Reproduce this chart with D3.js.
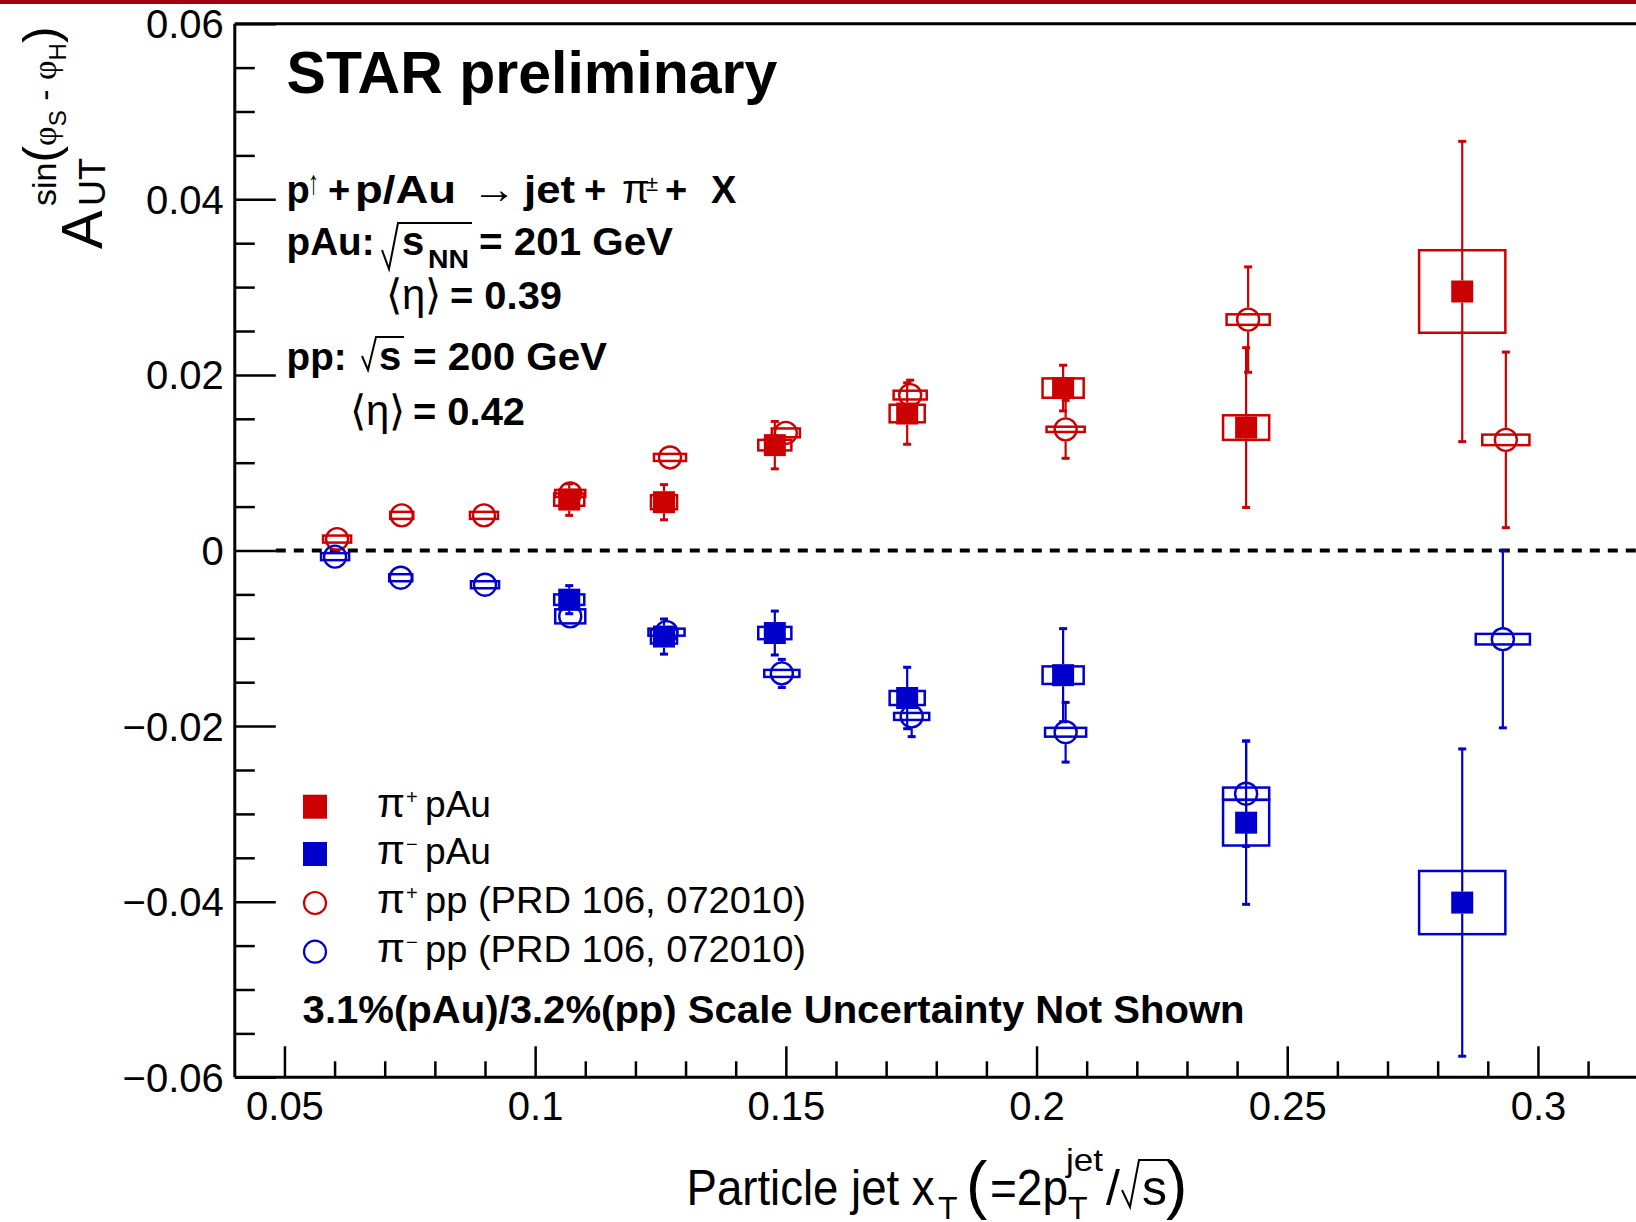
<!DOCTYPE html>
<html>
<head>
<meta charset="utf-8">
<script src="https://cdn.jsdelivr.net/npm/d3@7"></script>
<style>
body{margin:0;background:#fff;}
svg{display:block;}
text{font-family:"Liberation Sans",Arial,Helvetica,sans-serif;fill:#000;}
</style>
</head>
<body>
<div id="chart"></div>
<script>
// data
var pAuX      = [0.1068, 0.1257, 0.1478, 0.1742, 0.2053, 0.2418, 0.2849];
var pAuXErr   = [0.0030, 0.0026, 0.0033, 0.0035, 0.0041, 0.0046, 0.0086];

var piPlusPAu      = [0.0058, 0.0055, 0.0120, 0.0156, 0.0185, 0.0140, 0.0295];
var piPlusPAuStat  = [0.0018, 0.0020, 0.0027, 0.0035, 0.0026, 0.0091, 0.0171];
var piPlusPAuSys   = [0.0007, 0.0008, 0.0006, 0.0010, 0.0011, 0.0014, 0.0047];

var piMinusPAu     = [-0.0056, -0.0098, -0.0094, -0.0168, -0.0142, -0.0310, -0.0401];
var piMinusPAuStat = [0.0016, 0.0020, 0.0025, 0.0035, 0.0053, 0.0093, 0.0175];
var piMinusPAuSys  = [0.0006, 0.0008, 0.0007, 0.0008, 0.0010, 0.0026, 0.0036];

var ppPlusX      = [0.0605, 0.0734, 0.0898, 0.1070, 0.1269, 0.1500, 0.1748, 0.2058, 0.2422, 0.2936];
var ppPlusXErr   = [0.0028, 0.0023, 0.0028, 0.0030, 0.0032, 0.0028, 0.0033, 0.0038, 0.0043, 0.0047];
var piPlusPP     = [0.0013, 0.0040, 0.0040, 0.0065, 0.0106, 0.0134, 0.0177, 0.0138, 0.0263, 0.0126];
var piPlusPPStat = [0.0008, 0.0008, 0.0008, 0.0010, 0.0010, 0.0013, 0.0017, 0.0033, 0.0060, 0.0100];
var piPlusPPSys  = [0.0004, 0.0004, 0.0004, 0.0004, 0.0004, 0.0005, 0.0005, 0.0003, 0.0006, 0.0006];

var ppMinusX      = [0.0601, 0.0732, 0.0900, 0.1070, 0.1262, 0.1492, 0.1751, 0.2058, 0.2418, 0.2930];
var ppMinusXErr   = [0.0028, 0.0023, 0.0028, 0.0030, 0.0036, 0.0035, 0.0035, 0.0041, 0.0046, 0.0054];
var piMinusPP     = [-0.0007, -0.0031, -0.0039, -0.0075, -0.0093, -0.0140, -0.0189, -0.0207, -0.0277, -0.0101];
var piMinusPPStat = [0.0008, 0.0008, 0.0008, 0.0010, 0.0012, 0.0016, 0.0023, 0.0034, 0.0060, 0.0101];
var piMinusPPSys  = [0.0004, 0.0004, 0.0004, 0.0008, 0.0004, 0.0004, 0.0004, 0.0005, 0.0007, 0.0006];

var xTicks = [0.05, 0.1, 0.15, 0.2, 0.25, 0.3];
var xTickLabels = ['0.05', '0.1', '0.15', '0.2', '0.25', '0.3'];
var yTicks = [0.06, 0.04, 0.02, 0, -0.02, -0.04, -0.06];
var yTickLabels = ['0.06', '0.04', '0.02', '0', '\u22120.02', '\u22120.04', '\u22120.06'];

var legendLabels = ['pAu', 'pAu', 'pp (PRD 106, 072010)', 'pp (PRD 106, 072010)'];
var legendCharges = ['+', '\u2212', '+', '\u2212'];

var RED = '#cc0000', BLUE = '#0000cc';
var W = 1636, H = 1222;
var plotLeft = 234.8, plotTop = 23.7, plotBottom = 1077.3;

var svg = d3.select('#chart').append('svg').attr('width', W).attr('height', H);
svg.append('rect').attr('width', W).attr('height', H).attr('fill', '#fff');
// thin dark red strip along the top of the slide
svg.append('rect').attr('x', 0).attr('y', 0).attr('width', W).attr('height', 4).attr('fill', '#a3000f');

var x = d3.scaleLinear().domain([0.0401, 0.33]).range([plotLeft, plotLeft + 0.2899 * 5014]);
var y = d3.scaleLinear().domain([-0.06, 0.06]).range([plotBottom, plotTop]);

// minor ticks
var yMinor = d3.range(-0.06, 0.0601, 0.005).filter(v => Math.abs(Math.round(v * 1000) % 20) !== 0);
var xMinor = d3.range(0.05, 0.321, 0.01).filter(v => Math.abs(Math.round(v * 1000) % 50) !== 0);

var axY = svg.append('g').attr('transform', 'translate(' + plotLeft + ',0)')
    .call(d3.axisLeft(y).tickValues(yTicks).tickSize(-41).tickPadding(11)
        .tickFormat((d, i) => yTickLabels[i]));
svg.append('g').attr('transform', 'translate(' + plotLeft + ',0)')
    .call(d3.axisLeft(y).tickValues(yMinor).tickSize(-20).tickFormat(''));

var axX = svg.append('g').attr('transform', 'translate(0,' + plotBottom + ')')
    .call(d3.axisBottom(x).tickValues(xTicks).tickSize(-31).tickPadding(14)
        .tickFormat((d, i) => xTickLabels[i]));
svg.append('g').attr('transform', 'translate(0,' + plotBottom + ')')
    .call(d3.axisBottom(x).tickValues(xMinor).tickSize(-16).tickFormat(''));

svg.selectAll('.domain').remove();
svg.selectAll('.tick line').attr('stroke', '#000').attr('stroke-width', 2.5);
svg.selectAll('.tick text').attr('font-size', 40).attr('font-family', '"Liberation Sans",Arial,sans-serif');
axY.selectAll('.tick text').attr('dy', '0.35em');

// frame
svg.append('line').attr('x1', plotLeft).attr('x2', plotLeft).attr('y1', plotTop).attr('y2', plotBottom)
    .attr('stroke', '#000').attr('stroke-width', 3);
svg.append('line').attr('x1', plotLeft).attr('x2', W).attr('y1', plotTop).attr('y2', plotTop)
    .attr('stroke', '#000').attr('stroke-width', 3);
svg.append('line').attr('x1', plotLeft).attr('x2', W).attr('y1', plotBottom).attr('y2', plotBottom)
    .attr('stroke', '#000').attr('stroke-width', 3);

// zero line
svg.append('line').attr('x1', plotLeft + 41).attr('x2', W).attr('y1', y(0)).attr('y2', y(0))
    .attr('stroke', '#000').attr('stroke-width', 4).attr('stroke-dasharray', '10,8');

function drawSeries(xs, xe, ys, st, sy, color, kind) {
    var pts = xs.map(function(v, i) {
        return {x: v, xe: xe[i], y: ys[i], st: st[i], sy: sy[i]};
    });
    var half = kind === 'square' ? 11 : 12;
    var g = svg.append('g');

    g.selectAll('rect.sys').data(pts).enter().append('rect')
        .attr('class', 'sys')
        .attr('x', d => x(d.x - d.xe)).attr('width', d => x(d.x + d.xe) - x(d.x - d.xe))
        .attr('y', d => y(d.y + d.sy)).attr('height', d => y(d.y - d.sy) - y(d.y + d.sy))
        .attr('fill', 'none').attr('stroke', color).attr('stroke-width', 2.5);

    // stat bars, with a gap where the marker sits
    var bars = pts.filter(d => y(d.y - d.st) - y(d.y) > half);
    g.selectAll('line.up').data(bars).enter().append('line')
        .attr('x1', d => x(d.x)).attr('x2', d => x(d.x))
        .attr('y1', d => y(d.y) - half).attr('y2', d => y(d.y + d.st))
        .attr('stroke', color).attr('stroke-width', 2.2);
    g.selectAll('line.dn').data(bars).enter().append('line')
        .attr('x1', d => x(d.x)).attr('x2', d => x(d.x))
        .attr('y1', d => y(d.y) + half).attr('y2', d => y(d.y - d.st))
        .attr('stroke', color).attr('stroke-width', 2.2);
    g.selectAll('rect.capu').data(bars).enter().append('rect')
        .attr('x', d => x(d.x) - 4).attr('width', 8)
        .attr('y', d => y(d.y + d.st) - 1.5).attr('height', 3).attr('fill', color);
    g.selectAll('rect.capd').data(bars).enter().append('rect')
        .attr('x', d => x(d.x) - 4).attr('width', 8)
        .attr('y', d => y(d.y - d.st) - 1.5).attr('height', 3).attr('fill', color);

    if (kind === 'square') {
        g.selectAll('rect.mk').data(pts).enter().append('rect')
            .attr('x', d => x(d.x) - half).attr('y', d => y(d.y) - half)
            .attr('width', half * 2).attr('height', half * 2).attr('fill', color);
    } else {
        g.selectAll('circle').data(pts).enter().append('circle')
            .attr('cx', d => x(d.x)).attr('cy', d => y(d.y)).attr('r', half - 1)
            .attr('fill', 'none').attr('stroke', color).attr('stroke-width', 2.4);
    }
}

drawSeries(ppPlusX, ppPlusXErr, piPlusPP, piPlusPPStat, piPlusPPSys, RED, 'circle');
drawSeries(ppMinusX, ppMinusXErr, piMinusPP, piMinusPPStat, piMinusPPSys, BLUE, 'circle');
drawSeries(pAuX, pAuXErr, piPlusPAu, piPlusPAuStat, piPlusPAuSys, RED, 'square');
drawSeries(pAuX, pAuXErr, piMinusPAu, piMinusPAuStat, piMinusPAuSys, BLUE, 'square');

// text helper; w stretches the glyphs to the width seen in the reference
function txt(px, py, s, size, opts) {
    opts = opts || {};
    var t = svg.append('text').attr('x', px).attr('y', py).attr('font-size', size).text(s);
    if (opts.bold) t.attr('font-weight', 'bold');
    if (opts.serif) t.attr('font-family', '"Liberation Serif","DejaVu Serif",serif');
    if (opts.w) t.attr('textLength', opts.w).attr('lengthAdjust', 'spacingAndGlyphs');
    return t;
}

txt(286.6, 93, 'STAR preliminary', 59, {bold: true});

// p↑ + p/Au → jet + π± + X
txt(286.6, 203, 'p', 38, {bold: true});
txt(308, 194, '\u2191', 34, {serif: true, w: 11});
txt(328, 203, '+', 38, {bold: true});
txt(355, 203, 'p/Au', 38, {bold: true, w: 101});
txt(472, 203, '\u2192', 40, {serif: true, w: 44});
txt(524, 203, 'jet', 38, {bold: true, w: 51});
txt(584, 203, '+', 38, {bold: true});
txt(622, 203, '\u03c0', 40, {serif: true});
txt(646, 191, '\u00b1', 22, {serif: true});
txt(665, 203, '+', 38, {bold: true});
txt(711, 203, 'X', 38, {bold: true});

// pAu: √s_NN = 201 GeV
txt(286.6, 255, 'pAu:', 38, {bold: true, w: 88});
svg.append('path').attr('d', 'M382,250 L389,269 L398,223 L472,223')
    .attr('fill', 'none').attr('stroke', '#000').attr('stroke-width', 2);
txt(402, 255, 's', 40, {bold: true});
txt(428, 268, 'NN', 26, {bold: true, w: 41});
txt(479, 255, '= 201 GeV', 38, {bold: true, w: 194});

txt(386, 309, '\u27e8\u03b7\u27e9', 42, {serif: true, w: 55});
txt(450, 309, '= 0.39', 38, {bold: true, w: 112});

// pp: √s = 200 GeV
txt(286.6, 370, 'pp:', 38, {bold: true, w: 60});
svg.append('path').attr('d', 'M362,356 L368,370 L376,337 L404,337')
    .attr('fill', 'none').attr('stroke', '#000').attr('stroke-width', 2);
txt(379, 370, 's', 40, {bold: true});
txt(413, 370, '= 200 GeV', 38, {bold: true, w: 194});

txt(350, 425, '\u27e8\u03b7\u27e9', 42, {serif: true, w: 55});
txt(413, 425, '= 0.42', 38, {bold: true, w: 112});

// legend
var legY = [806.7, 854, 903, 951.7];
var legColor = [RED, BLUE, RED, BLUE];
var legW = [66, 66, 381, 381];
legY.forEach(function(ly, i) {
    if (i < 2) {
        svg.append('rect').attr('x', 303).attr('y', ly - 12).attr('width', 24).attr('height', 24)
            .attr('fill', legColor[i]);
    } else {
        svg.append('circle').attr('cx', 315).attr('cy', ly).attr('r', 11)
            .attr('fill', 'none').attr('stroke', legColor[i]).attr('stroke-width', 2.2);
    }
    txt(377, ly + 10, '\u03c0', 40, {serif: true, w: 28});
    txt(406, ly - 3, legendCharges[i], 20, {});
    txt(425, ly + 10, legendLabels[i], 36, {w: legW[i]});
});

txt(302.6, 1023, '3.1%(pAu)/3.2%(pp) Scale Uncertainty Not Shown', 39, {bold: true, w: 942});

// x axis title: Particle jet x_T (=2p_T^jet/√s)
txt(686.6, 1205, 'Particle jet x', 50, {w: 248});
txt(938, 1219, 'T', 32);
txt(966, 1207, '(', 64);
txt(990, 1205, '=2p', 50, {w: 78});
txt(1066, 1171, 'jet', 32, {w: 37});
txt(1068, 1219, 'T', 32);
txt(1106, 1205, '/', 50);
svg.append('path').attr('d', 'M1122,1190 L1130,1207 L1139,1160 L1170,1160')
    .attr('fill', 'none').attr('stroke', '#000').attr('stroke-width', 2);
txt(1142, 1205, 's', 50);
txt(1166, 1207, ')', 64);

// y axis title: A_UT^{sin(φS - φH)}
var yt = svg.append('g').attr('transform', 'translate(102,249) rotate(-90)');
yt.append('text').attr('x', 0).attr('y', 0).attr('font-size', 58).text('A');
yt.append('text').attr('x', 43).attr('y', 3).attr('font-size', 36).text('UT');
var sup = yt.append('text').attr('x', 43).attr('y', -46).attr('font-size', 34);
sup.append('tspan').text('sin');
sup.append('tspan').attr('font-size', 50).attr('dy', 2).text('(');
sup.append('tspan').attr('dy', -2).attr('font-family', '"Liberation Serif",serif').text('\u03c6');
sup.append('tspan').attr('font-size', 24).attr('dy', 10).text('S');
sup.append('tspan').attr('dy', -10).text(' - ');
sup.append('tspan').attr('font-family', '"Liberation Serif",serif').text('\u03c6');
sup.append('tspan').attr('font-size', 24).attr('dy', 10).text('H');
sup.append('tspan').attr('font-size', 50).attr('dy', -8).text(')');
</script>
</body>
</html>
